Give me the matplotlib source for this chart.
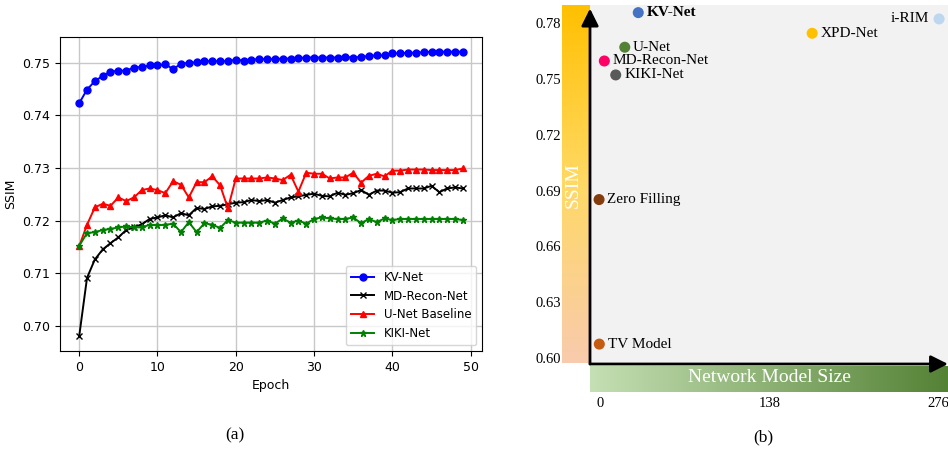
import numpy as np
import matplotlib
matplotlib.use('Agg')
import matplotlib.pyplot as plt
from matplotlib.colors import LinearSegmentedColormap

# (a) SSIM per epoch
epochs = list(range(50))
kv_net = [0.7423, 0.7449, 0.7465, 0.7475, 0.7483, 0.7485, 0.7485, 0.7491, 0.7492, 0.7495,
          0.7495, 0.7497, 0.7488, 0.7498, 0.7500, 0.7501, 0.7503, 0.7503, 0.7503, 0.7503,
          0.7506, 0.7504, 0.7506, 0.7507, 0.7507, 0.7507, 0.7508, 0.7508, 0.7509, 0.7510,
          0.7510, 0.7510, 0.7510, 0.7510, 0.7511, 0.7510, 0.7511, 0.7513, 0.7514, 0.7514,
          0.7518, 0.7518, 0.7519, 0.7519, 0.7520, 0.7521, 0.7521, 0.7521, 0.7521, 0.7521]
md_recon = [0.6980, 0.7091, 0.7126, 0.7145, 0.7157, 0.7168, 0.7182, 0.7187, 0.7193, 0.7203,
            0.7206, 0.7210, 0.7206, 0.7214, 0.7210, 0.7224, 0.7222, 0.7227, 0.7228, 0.7231,
            0.7234, 0.7235, 0.7239, 0.7237, 0.7239, 0.7234, 0.7239, 0.7244, 0.7246, 0.7249,
            0.7251, 0.7247, 0.7246, 0.7253, 0.7249, 0.7252, 0.7258, 0.7249, 0.7257, 0.7257,
            0.7253, 0.7254, 0.7261, 0.7261, 0.7261, 0.7266, 0.7254, 0.7261, 0.7263, 0.7261]
unet = [0.7151, 0.7192, 0.7225, 0.7232, 0.7228, 0.7244, 0.7237, 0.7244, 0.7258, 0.7261,
        0.7258, 0.7252, 0.7275, 0.7268, 0.7244, 0.7273, 0.7273, 0.7284, 0.7267, 0.7223,
        0.7280, 0.7280, 0.7280, 0.7280, 0.7282, 0.7280, 0.7277, 0.7287, 0.7255, 0.7291,
        0.7289, 0.7289, 0.7280, 0.7282, 0.7282, 0.7291, 0.7272, 0.7285, 0.7289, 0.7284,
        0.7295, 0.7295, 0.7297, 0.7297, 0.7297, 0.7296, 0.7296, 0.7296, 0.7296, 0.7299]
kiki = [0.7152, 0.7176, 0.7178, 0.7182, 0.7184, 0.7187, 0.7189, 0.7187, 0.7187, 0.7192,
        0.7191, 0.7192, 0.7194, 0.7178, 0.7197, 0.7178, 0.7195, 0.7192, 0.7186, 0.7201,
        0.7196, 0.7196, 0.7196, 0.7196, 0.7200, 0.7194, 0.7204, 0.7196, 0.7200, 0.7194,
        0.7203, 0.7206, 0.7204, 0.7203, 0.7203, 0.7206, 0.7195, 0.7203, 0.7197, 0.7204,
        0.7201, 0.7203, 0.7203, 0.7203, 0.7203, 0.7203, 0.7203, 0.7203, 0.7203, 0.7201]

# (b) SSIM vs model size
models = ['KV-Net', 'i-RIM', 'XPD-Net', 'U-Net', 'MD-Recon-Net', 'KIKI-Net', 'Zero Filling', 'TV Model']
model_size = [31, 276.6, 173, 20, 3.3, 12.6, -1, -0.8]
model_ssim = [0.7857, 0.7823, 0.7746, 0.7671, 0.7597, 0.7522, 0.6852, 0.6075]
model_colors = ['#4472C4', '#BDD7EE', '#FFC000', '#548235', '#FF0066', '#595959', '#843C0C', '#C55A11']
ssim_ticks = [0.60, 0.63, 0.66, 0.69, 0.72, 0.75, 0.78]
size_ticks = [0, 138, 276]

W, H = 948, 450
fig = plt.figure(figsize=(W / 100, H / 100), dpi=100)

def box(x0, y0, x1, y1):
    # pixel box -> figure fraction
    return [x0 / W, 1 - y1 / H, (x1 - x0) / W, (y1 - y0) / H]

# ---- (a)
ax1 = fig.add_axes(box(60, 37, 482, 351))
ax1.plot(epochs, kv_net, color='blue', marker='o', ms=5, lw=1.4, label='KV-Net')
ax1.plot(epochs, md_recon, color='black', marker='x', ms=4, lw=1.4, label='MD-Recon-Net')
ax1.plot(epochs, unet, color='red', marker='^', ms=4, lw=1.4, label='U-Net Baseline')
ax1.plot(epochs, kiki, color='green', marker='*', ms=5, lw=1.4, label='KIKI-Net')
ax1.set_ylim(0.6952, 0.7549)
ax1.set_yticks([0.70, 0.71, 0.72, 0.73, 0.74, 0.75])
ax1.set_xticks([0, 10, 20, 30, 40, 50])
ax1.tick_params(labelsize=9)
ax1.set_xlabel('Epoch', fontsize=9)
ax1.set_ylabel('SSIM', fontsize=9)
ax1.grid(True, color='#c8c8c8', lw=1)
ax1.legend(loc='lower right', fontsize=8.5)

serif = 'Liberation Serif'

# ---- (b) gradient bars
ybar = fig.add_axes(box(562, 5, 590, 363.5))
ycmap = LinearSegmentedColormap.from_list('yb', ['#F8CBAD', '#FFD966', '#FFC000'])
ybar.imshow(np.linspace(0, 1, 256)[::-1].reshape(-1, 1), cmap=ycmap, aspect='auto')
ybar.axis('off')

xbar = fig.add_axes(box(590, 365.7, 948, 391.7))
xcmap = LinearSegmentedColormap.from_list('xb', ['#C5E0B4', '#548235'])
xbar.imshow(np.linspace(0, 1, 256).reshape(1, -1), cmap=xcmap, aspect='auto')
xbar.axis('off')

fig.text(573 / W, 1 - 185 / H, 'SSIM', rotation=90, color='white', family=serif,
         fontsize=14, ha='center', va='center')
fig.text(769 / W, 1 - 377 / H, 'Network Model Size', color='white', family=serif,
         fontsize=14, ha='center', va='center')

ax2 = fig.add_axes(box(590, 5, 948, 364))
ax2.set_facecolor('#F2F2F2')
ax2.set_xlim(-8.4, 283.9)
ax2.set_ylim(0.5968, 0.7898)
for s in ax2.spines.values():
    s.set_visible(False)
ax2.set_yticks(ssim_ticks)
ax2.set_yticklabels(['%.2f' % v for v in ssim_ticks], family=serif, fontsize=10.5)
ax2.set_xticks(size_ticks)
ax2.set_xticklabels([str(v) for v in size_ticks], family=serif, fontsize=10.5)
ax2.tick_params(axis='y', length=0, pad=21)
ax2.tick_params(axis='x', length=0, pad=24)

ax2.annotate('', xy=(0, 0.99), xytext=(0, 0), xycoords='axes fraction',
             arrowprops=dict(arrowstyle='-|>', lw=2, color='black', mutation_scale=26,
                             shrinkA=0, shrinkB=0))
ax2.annotate('', xy=(1.0, 0), xytext=(0, 0), xycoords='axes fraction',
             arrowprops=dict(arrowstyle='-|>', lw=2, color='black', mutation_scale=26,
                             shrinkA=0, shrinkB=0))

ax2.scatter(model_size, model_ssim, s=48, c=model_colors, zorder=3)
for name, x, y in zip(models, model_size, model_ssim):
    if name == 'i-RIM':
        ax2.annotate(name, (x, y), xytext=(-7, 0), textcoords='offset points',
                     ha='right', va='center', family=serif, fontsize=11)
    else:
        ax2.annotate(name, (x, y), xytext=(6, 0), textcoords='offset points',
                     ha='left', va='center', family=serif, fontsize=11,
                     weight='bold' if name == 'KV-Net' else 'normal')

fig.text(235 / W, 1 - 435 / H, '(a)', family=serif, fontsize=12.5, ha='center', va='center')
fig.text(763 / W, 1 - 437 / H, '(b)', family=serif, fontsize=12.5, ha='center', va='center')

fig.savefig('out.png', dpi=100)
